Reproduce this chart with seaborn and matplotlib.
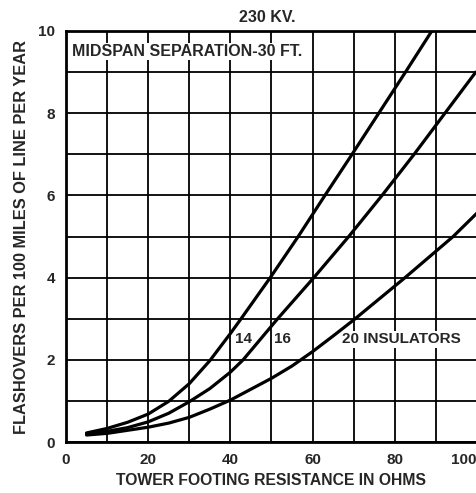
import pandas as pd
import matplotlib
matplotlib.use("Agg")
import matplotlib.pyplot as plt
import seaborn as sns

# DATA
ohms_14 = [5, 10, 15, 20, 25, 30, 35, 40, 42.6, 49.7, 56.5, 63, 69.6, 76.1, 82.6, 89]
flash_14 = [0.22, 0.33, 0.48, 0.68, 0.99, 1.42, 1.98, 2.64, 3.0, 4.0, 5.0, 6.0, 7.0, 8.0, 9.0, 10.0]

ohms_16 = [5, 10, 15, 20, 25, 30, 35, 40, 43.1, 51.5, 60.3, 68.8, 76.9, 84.7, 92.2, 99.7]
flash_16 = [0.2, 0.26, 0.35, 0.49, 0.7, 0.98, 1.3, 1.7, 2.0, 3.0, 4.0, 5.0, 6.0, 7.0, 8.0, 9.0]

ohms_20 = [5, 10, 20, 25, 30, 35, 40, 50, 55, 60, 65, 70, 82.5, 94.2, 100]
flash_20 = [0.17, 0.21, 0.36, 0.46, 0.6, 0.8, 1.02, 1.55, 1.85, 2.2, 2.58, 2.97, 4.0, 5.0, 5.57]

x_ticks = [0, 20, 40, 60, 80, 100]
y_ticks = [0, 2, 4, 6, 8, 10]

sns.set_style("white")
plt.rcParams['font.family'] = ['Liberation Sans', 'DejaVu Sans']
plt.rcParams['font.weight'] = 'bold'

fig = plt.figure(figsize=(4.77, 4.93), dpi=100)
ax = fig.add_axes([66/477, 1 - 442/493, 411/477, 411/493])

# curves
for xs, ys in [(ohms_14, flash_14), (ohms_16, flash_16), (ohms_20, flash_20)]:
    df = pd.DataFrame({'ohms': xs, 'flash': ys})
    sns.lineplot(data=df, x='ohms', y='flash', color='black', linewidth=2.3,
                 ax=ax, zorder=5, sort=False)

ax.set_xlim(0, 100)
ax.set_ylim(0, 10)

# grid every 10 ohms / 1 flashover
ax.set_xticks(x_ticks)
ax.set_xticks(range(10, 100, 20), minor=True)
ax.set_yticks(y_ticks)
ax.set_yticks(range(1, 10, 2), minor=True)
ax.grid(True, which='both', color='black', linewidth=1.3)
ax.set_axisbelow(True)
ax.tick_params(which='both', length=0, labelsize=11, pad=8)
for lab in ax.get_xticklabels() + ax.get_yticklabels():
    lab.set_fontweight('bold')
ax.get_xticklabels()[-1].set_horizontalalignment('right')

for side in ['left', 'bottom', 'top', 'right']:
    ax.spines[side].set_visible(True)
    ax.spines[side].set_color('black')
    ax.spines[side].set_linewidth(2.0)

ax.set_xlabel("TOWER FOOTING RESISTANCE IN OHMS", fontsize=11.3, fontweight='bold')
ax.set_ylabel("FLASHOVERS PER 100 MILES OF LINE PER YEAR", fontsize=11.8, fontweight='bold')
ax.xaxis.set_label_coords(0.5, -0.075)
ax.yaxis.set_label_coords(-0.09, 0.5)

fig.text(267/477, 1 - 18/493, "230 KV.", ha='center', va='center',
         fontsize=11.5, fontweight='bold')

box = dict(facecolor='white', edgecolor='none', pad=1.0)
ax.text(1.5, 9.5, "MIDSPAN SEPARATION-30 FT.", ha='left', va='center',
        fontsize=11.5, fontweight='bold', bbox=box, zorder=3)
ax.text(41.2, 2.5, "14", ha='left', va='center', fontsize=11,
        fontweight='bold', bbox=box, zorder=3)
ax.text(50.6, 2.5, "16", ha='left', va='center', fontsize=11,
        fontweight='bold', bbox=box, zorder=3)
ax.text(67.2, 2.5, "20 INSULATORS", ha='left', va='center', fontsize=11,
        fontweight='bold', bbox=box, zorder=3)

plt.savefig("out.png", dpi=100)
